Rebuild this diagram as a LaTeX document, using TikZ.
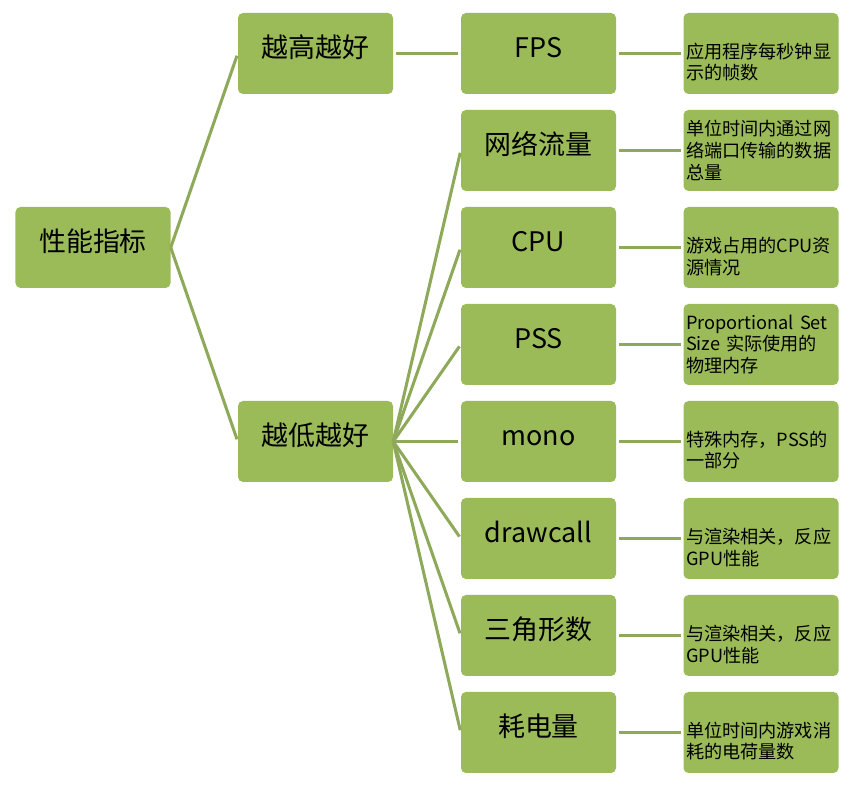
\documentclass[tikz,border=0pt]{standalone}
\usepackage{fontspec}
\setmainfont{Noto Sans CJK SC}
\definecolor{boxgreen}{HTML}{9BBB59}
\definecolor{linkgreen}{HTML}{8FA95A}

\begin{document}
\begin{tikzpicture}[x=1cm,y=1cm,line join=round,
  box/.style={fill=boxgreen,rounded corners=0.15cm,minimum width=4.65cm,minimum height=2.43cm,inner sep=0pt,text=black},
  big/.style={box,font=\fontsize{23}{27}\selectfont,text height=20pt,text depth=14pt},
  desc/.style={box,font=\fontsize{15.5}{18.5}\selectfont,text width=4.5cm,align=left},
  twoline/.style={text height=28pt},
  link/.style={linkgreen,line width=2.6pt,shorten >=2pt}]
  \useasboundingbox (0,0) rectangle (25.62,23.61);

  % ===== root and the two groups =====
  \node[big] (perf) at (2.79,16.185) {性能指标};
  \node[big] (hi) at (9.465,22.005) {越高越好};
  \node[big] (lo) at (9.465,10.365) {越低越好};

  % ===== metrics =====
  \node[big] (fps) at (16.155,22.005) {FPS};
  \node[big] (net) at (16.155,19.095) {网络流量};
  \node[big] (cpu) at (16.155,16.185) {CPU};
  \node[big] (pss) at (16.155,13.275) {PSS};
  \node[big] (mono) at (16.155,10.365) {mono};
  \node[big] (dc) at (16.155,7.455) {drawcall};
  \node[big] (tri) at (16.155,4.545) {三角形数};
  \node[big] (power) at (16.155,1.635) {耗电量};

  % ===== descriptions =====
  \node[desc,twoline] (fps-d) at (22.83,22.005) {应用程序每秒钟显\\示的帧数};
  \node[desc] (net-d) at (22.83,19.095) {单位时间内通过网\\络端口传输的数据\\总量};
  \node[desc,twoline] (cpu-d) at (22.83,16.185) {游戏占用的CPU资\\源情况};
  \node[desc] (pss-d) at (22.83,13.275) {Proportional Set\\Size 实际使用的\\物理内存};
  \node[desc,twoline] (mono-d) at (22.83,10.365) {特殊内存，PSS的\\一部分};
  \node[desc,twoline] (dc-d) at (22.83,7.455) {与渲染相关，反应\\GPU性能};
  \node[desc,twoline] (tri-d) at (22.83,4.545) {与渲染相关，反应\\GPU性能};
  \node[desc,twoline] (power-d) at (22.83,1.635) {单位时间内游戏消\\耗的电荷量数};

  % ===== connectors =====
  \draw[link] (perf.east) -- (hi.west);
  \draw[link] (perf.east) -- (lo.west);
  \draw[link,shorten <=2pt] (hi.east) -- (fps.west);
  \foreach \n in {net,cpu,pss,mono,dc,tri,power}{
    \draw[link] (lo.east) -- (\n.west);
  }
  \foreach \n in {fps,net,cpu,pss,mono,dc,tri,power}{
    \draw[link,shorten <=2.5pt] (\n.east) -- (\n-d.west);
  }
\end{tikzpicture}
\end{document}
